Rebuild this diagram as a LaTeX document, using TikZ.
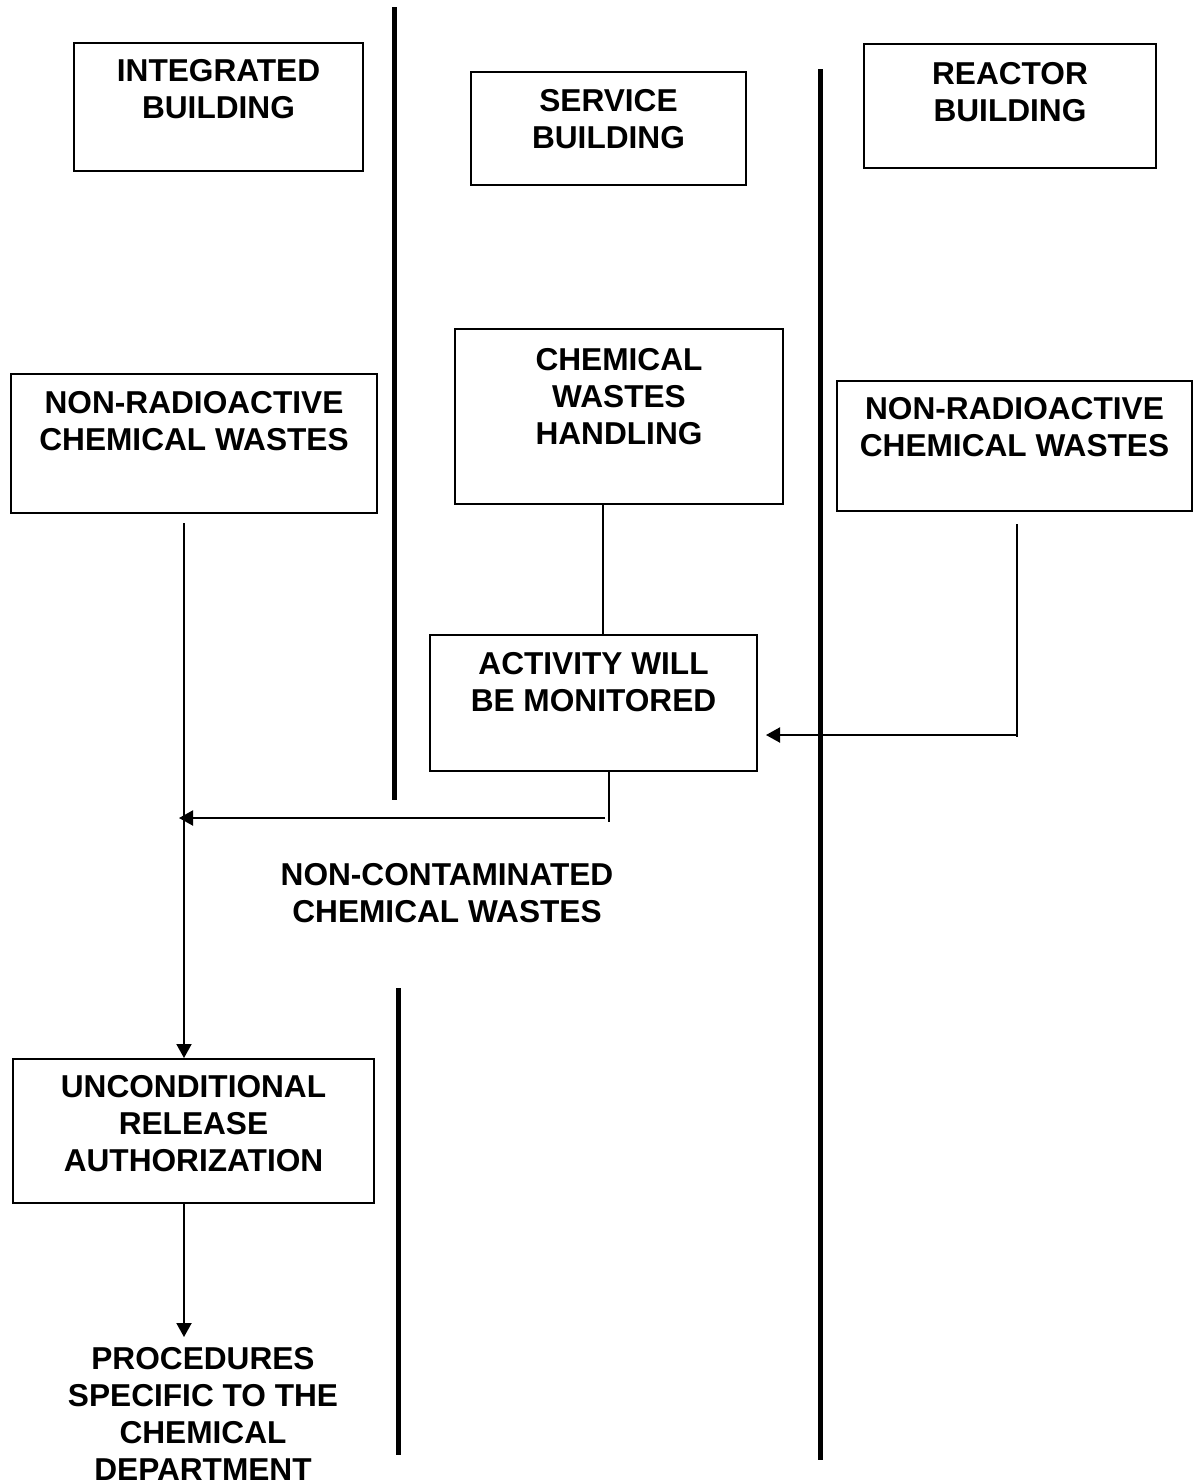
\documentclass[tikz,border=0pt]{standalone}
\usepackage{fontspec}
\setmainfont{Liberation Sans}
\usetikzlibrary{arrows.meta,positioning}

\begin{document}
\begin{tikzpicture}[
  box/.style={draw, line width=0.02cm, inner sep=0pt},
  txt/.style={align=center, inner sep=0pt, font=\bfseries\fontsize{9pt}{10.5pt}\selectfont},
  wall/.style={line width=0.055cm},
  ln/.style={line width=0.02cm},
  arr/.style={line width=0.02cm, -{Triangle[length=0.14cm,width=0.15cm]}}]
\useasboundingbox (0,0) rectangle (11.93,-14.83);

% the three buildings
\node[box, minimum width=2.89cm, minimum height=1.28cm] (ib) at (2.185,-1.07) {};
\node[txt, below=0.17cm of ib.north] (ibt) {INTEGRATED\\BUILDING};
\node[box, minimum width=2.75cm, minimum height=1.13cm] (sb) at (6.085,-1.285) {};
\node[txt, below=0.18cm of sb.north] (sbt) {SERVICE\\BUILDING};
\node[box, minimum width=2.92cm, minimum height=1.24cm] (rb) at (10.10,-1.06) {};
\node[txt, below=0.19cm of rb.north] (rbt) {REACTOR\\BUILDING};

% separating walls
\draw[wall] (3.945,-0.07) -- (3.945,-8.00);
\draw[wall] (8.205,-0.69) -- (8.205,-14.60);
\draw[wall] (3.985,-9.88) -- (3.985,-14.55);

\node[box, minimum width=3.66cm, minimum height=1.39cm] (nrl) at (1.94,-4.435) {};
\node[txt, below=0.18cm of nrl.north] (nrlt) {NON-RADIOACTIVE\\CHEMICAL WASTES};
\node[box, minimum width=3.28cm, minimum height=1.75cm] (cwh) at (6.19,-4.165) {};
\node[txt, below=0.20cm of cwh.north] (cwht) {CHEMICAL\\WASTES\\HANDLING};
\node[box, minimum width=3.55cm, minimum height=1.30cm] (nrr) at (10.145,-4.46) {};
\node[txt, below=0.17cm of nrr.north] (nrrt) {NON-RADIOACTIVE\\CHEMICAL WASTES};

\node[box, minimum width=3.27cm, minimum height=1.36cm] (act) at (5.935,-7.03) {};
\node[txt, below=0.18cm of act.north] (actt) {ACTIVITY WILL\\BE MONITORED};

\node[txt, anchor=north] (nct) at (4.47,-8.63) {NON-CONTAMINATED\\CHEMICAL WASTES};

\node[box, minimum width=3.61cm, minimum height=1.44cm] (ura) at (1.935,-11.31) {};
\node[txt, below=0.17cm of ura.north] (urat) {UNCONDITIONAL\\RELEASE\\AUTHORIZATION};

\node[txt, anchor=north] (proc) at (2.03,-13.47) {PROCEDURES\\SPECIFIC TO THE\\CHEMICAL\\DEPARTMENT};

% flows
\coordinate (lft) at (1.84,-5.23);
\draw[arr] (lft) -- (lft |- ura.north);

\coordinate (mid) at (6.03,0);
\draw[ln] (cwh.south -| mid) -- (act.north -| mid);

\coordinate (actdn) at (6.09,-8.22);
\draw[ln] (act.south -| actdn) -- (actdn);
\coordinate (ret) at (6.05,-8.18);
\coordinate (retin) at (1.79,-8.18);
\draw[arr] (ret) -- (retin);

\coordinate (rgt) at (10.17,-5.24);
\coordinate (rgtdn) at (10.17,-7.37);
\draw[ln] (rgt) -- (rgtdn);
\coordinate (rgtin) at (7.66,-7.35);
\draw[arr] (rgtdn |- rgtin) -- (rgtin);

\coordinate (procin) at (1.84,-13.37);
\draw[arr] (ura.south -| procin) -- (procin);

\end{tikzpicture}
\end{document}
